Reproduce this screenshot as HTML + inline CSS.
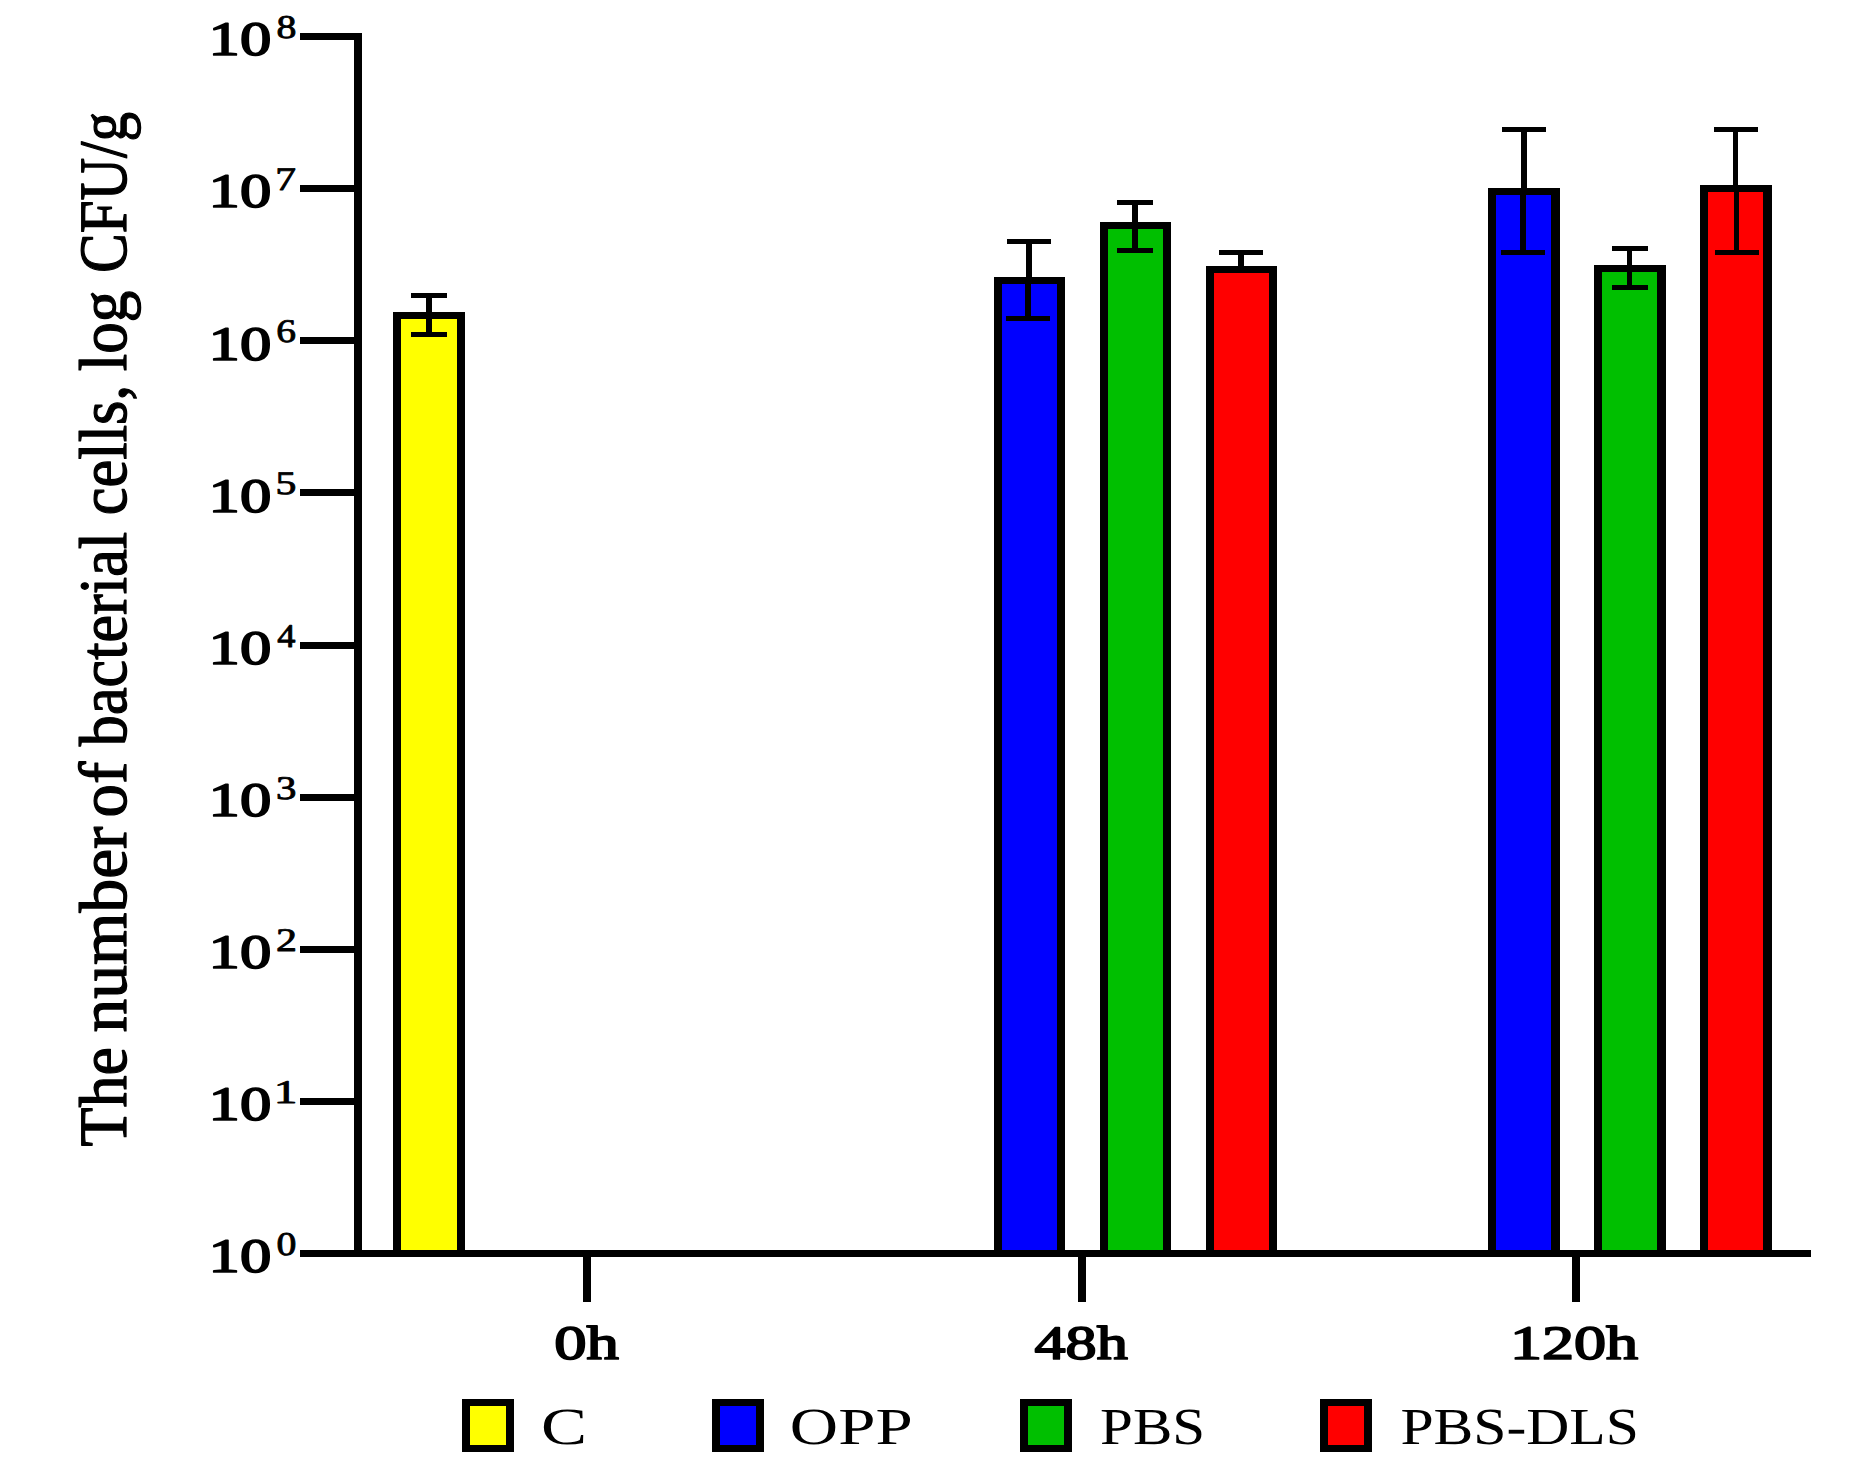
<!DOCTYPE html>
<html><head><meta charset="utf-8"><title>Bacterial cells chart</title>
<style>
html,body{margin:0;padding:0;background:#fff;}
body{width:1862px;height:1474px;overflow:hidden;}
svg{display:block;}
text{font-family:"Liberation Serif","DejaVu Serif",serif;fill:#000;}
</style></head><body>
<svg width="1862" height="1474" viewBox="0 0 1862 1474" shape-rendering="crispEdges" text-rendering="geometricPrecision">
<rect x="0" y="0" width="1862" height="1474" fill="#fff"/>
<rect x="393" y="312" width="72" height="941" fill="#000"/>
<rect x="401" y="319" width="56" height="934" fill="#ffff00"/>
<rect x="994" y="277" width="71" height="976" fill="#000"/>
<rect x="1002" y="284" width="55" height="969" fill="#0000ff"/>
<rect x="1100" y="222" width="71" height="1031" fill="#000"/>
<rect x="1108" y="229" width="55" height="1024" fill="#00bf00"/>
<rect x="1206" y="266" width="71" height="987" fill="#000"/>
<rect x="1214" y="273" width="55" height="980" fill="#ff0000"/>
<rect x="1488" y="188" width="72" height="1065" fill="#000"/>
<rect x="1496" y="195" width="55" height="1058" fill="#0000ff"/>
<rect x="1594" y="265" width="72" height="988" fill="#000"/>
<rect x="1602" y="272" width="55" height="981" fill="#00bf00"/>
<rect x="1700" y="185" width="72" height="1068" fill="#000"/>
<rect x="1708" y="192" width="55" height="1061" fill="#ff0000"/>
<rect x="411" y="293" width="36" height="5" fill="#000"/>
<rect x="426" y="293" width="6" height="23" fill="#000"/>
<rect x="426" y="315" width="6" height="22" fill="#000"/>
<rect x="411" y="332" width="36" height="5" fill="#000"/>
<rect x="1007" y="239" width="44" height="5" fill="#000"/>
<rect x="1026" y="239" width="6" height="42" fill="#000"/>
<rect x="1025" y="280" width="6" height="41" fill="#000"/>
<rect x="1006" y="316" width="44" height="5" fill="#000"/>
<rect x="1117" y="200" width="36" height="5" fill="#000"/>
<rect x="1132" y="200" width="6" height="26" fill="#000"/>
<rect x="1132" y="225" width="6" height="28" fill="#000"/>
<rect x="1117" y="248" width="36" height="5" fill="#000"/>
<rect x="1219" y="250" width="44" height="5" fill="#000"/>
<rect x="1238" y="250" width="6" height="20" fill="#000"/>
<rect x="1502" y="127" width="44" height="5" fill="#000"/>
<rect x="1521" y="127" width="6" height="65" fill="#000"/>
<rect x="1520" y="191" width="6" height="64" fill="#000"/>
<rect x="1501" y="250" width="44" height="5" fill="#000"/>
<rect x="1612" y="246" width="36" height="5" fill="#000"/>
<rect x="1627" y="246" width="5" height="23" fill="#000"/>
<rect x="1627" y="268" width="5" height="22" fill="#000"/>
<rect x="1612" y="285" width="36" height="5" fill="#000"/>
<rect x="1714" y="127" width="44" height="5" fill="#000"/>
<rect x="1733" y="127" width="5" height="62" fill="#000"/>
<rect x="1734" y="188" width="5" height="67" fill="#000"/>
<rect x="1715" y="250" width="44" height="5" fill="#000"/>
<rect x="354" y="33" width="8" height="1224" fill="#000"/>
<rect x="300" y="1250" width="1511" height="7" fill="#000"/>
<text transform="translate(208.60,1272.25) scale(1.3027,1)" font-size="48.12" font-weight="normal" stroke="#000" stroke-width="1.7" stroke-linejoin="round">10</text>
<text transform="translate(276.40,1255.08) scale(1.2063,1)" font-size="33.01" font-weight="normal" stroke="#000" stroke-width="0.85" stroke-linejoin="round">0</text>
<rect x="300" y="1098" width="55" height="7" fill="#000"/>
<text transform="translate(208.60,1120.12) scale(1.3027,1)" font-size="48.12" font-weight="normal" stroke="#000" stroke-width="1.7" stroke-linejoin="round">10</text>
<text transform="translate(273.85,1102.95) scale(1.4355,1)" font-size="33.01" font-weight="normal" stroke="#000" stroke-width="0.85" stroke-linejoin="round">1</text>
<rect x="300" y="946" width="55" height="7" fill="#000"/>
<text transform="translate(208.60,968.00) scale(1.3027,1)" font-size="48.12" font-weight="normal" stroke="#000" stroke-width="1.7" stroke-linejoin="round">10</text>
<text transform="translate(276.10,950.83) scale(1.2712,1)" font-size="33.01" font-weight="normal" stroke="#000" stroke-width="0.85" stroke-linejoin="round">2</text>
<rect x="300" y="794" width="55" height="7" fill="#000"/>
<text transform="translate(208.60,815.88) scale(1.3027,1)" font-size="48.12" font-weight="normal" stroke="#000" stroke-width="1.7" stroke-linejoin="round">10</text>
<text transform="translate(275.97,798.70) scale(1.2358,1)" font-size="33.01" font-weight="normal" stroke="#000" stroke-width="0.85" stroke-linejoin="round">3</text>
<rect x="300" y="642" width="55" height="7" fill="#000"/>
<text transform="translate(208.60,663.75) scale(1.3027,1)" font-size="48.12" font-weight="normal" stroke="#000" stroke-width="1.7" stroke-linejoin="round">10</text>
<text transform="translate(277.16,646.58) scale(1.1055,1)" font-size="33.01" font-weight="normal" stroke="#000" stroke-width="0.85" stroke-linejoin="round">4</text>
<rect x="300" y="489" width="55" height="7" fill="#000"/>
<text transform="translate(208.60,511.62) scale(1.3027,1)" font-size="48.12" font-weight="normal" stroke="#000" stroke-width="1.7" stroke-linejoin="round">10</text>
<text transform="translate(275.51,494.45) scale(1.2654,1)" font-size="33.01" font-weight="normal" stroke="#000" stroke-width="0.85" stroke-linejoin="round">5</text>
<rect x="300" y="337" width="55" height="7" fill="#000"/>
<text transform="translate(208.60,359.50) scale(1.3027,1)" font-size="48.12" font-weight="normal" stroke="#000" stroke-width="1.7" stroke-linejoin="round">10</text>
<text transform="translate(276.21,342.32) scale(1.1972,1)" font-size="33.01" font-weight="normal" stroke="#000" stroke-width="0.85" stroke-linejoin="round">6</text>
<rect x="300" y="185" width="55" height="7" fill="#000"/>
<text transform="translate(208.60,207.38) scale(1.3027,1)" font-size="48.12" font-weight="normal" stroke="#000" stroke-width="1.7" stroke-linejoin="round">10</text>
<text transform="translate(275.20,190.20) scale(1.2582,1)" font-size="33.01" font-weight="normal" stroke="#000" stroke-width="0.85" stroke-linejoin="round">7</text>
<rect x="300" y="33" width="55" height="7" fill="#000"/>
<text transform="translate(208.60,55.25) scale(1.3027,1)" font-size="48.12" font-weight="normal" stroke="#000" stroke-width="1.7" stroke-linejoin="round">10</text>
<text transform="translate(276.40,38.08) scale(1.2063,1)" font-size="33.01" font-weight="normal" stroke="#000" stroke-width="0.85" stroke-linejoin="round">8</text>
<rect x="583" y="1257" width="8" height="45" fill="#000"/>
<text transform="translate(554.29,1358.65) scale(1.3513,1)" font-size="47.82" font-weight="normal" stroke="#000" stroke-width="1.7" stroke-linejoin="round">0h</text>
<rect x="1078" y="1257" width="8" height="45" fill="#000"/>
<text transform="translate(1034.49,1358.65) scale(1.2997,1)" font-size="47.82" font-weight="normal" stroke="#000" stroke-width="1.7" stroke-linejoin="round">48h</text>
<rect x="1572" y="1257" width="8" height="45" fill="#000"/>
<text transform="translate(1509.90,1358.65) scale(1.3416,1)" font-size="47.82" font-weight="normal" stroke="#000" stroke-width="1.7" stroke-linejoin="round">120h</text>
<rect x="462" y="1399" width="52" height="53" fill="#000"/>
<rect x="470" y="1406" width="36" height="39" fill="#ffff00"/>
<text transform="translate(541.07,1444.00) scale(1.3254,1)" font-size="52.08" font-weight="normal">C</text>
<rect x="712" y="1399" width="52" height="53" fill="#000"/>
<rect x="720" y="1406" width="36" height="39" fill="#0000ff"/>
<text transform="translate(789.86,1444.00) scale(1.2846,1)" font-size="52.08" font-weight="normal">OPP</text>
<rect x="1020" y="1399" width="52" height="53" fill="#000"/>
<rect x="1028" y="1406" width="36" height="39" fill="#00bf00"/>
<text transform="translate(1100.10,1444.00) scale(1.1327,1)" font-size="52.08" font-weight="normal">PBS</text>
<rect x="1320" y="1399" width="52" height="53" fill="#000"/>
<rect x="1328" y="1406" width="36" height="39" fill="#ff0000"/>
<text transform="translate(1400.38,1444.00) scale(1.1441,1)" font-size="52.08" font-weight="normal">PBS-DLS</text>
<text transform="translate(126.15,1146.54) rotate(-90) scale(0.9454,1)" font-size="67.66" font-weight="normal" stroke="#000" stroke-width="1.3" stroke-linejoin="round">The</text>
<text transform="translate(126.15,1032.40) rotate(-90) scale(0.9965,1)" font-size="67.66" font-weight="normal" stroke="#000" stroke-width="1.3" stroke-linejoin="round">number</text>
<text transform="translate(126.15,817.41) rotate(-90) scale(0.9895,1)" font-size="67.66" font-weight="normal" stroke="#000" stroke-width="1.3" stroke-linejoin="round">of</text>
<text transform="translate(126.15,746.20) rotate(-90) scale(0.9201,1)" font-size="67.66" font-weight="normal" stroke="#000" stroke-width="1.3" stroke-linejoin="round">bacterial</text>
<text transform="translate(126.15,515.18) rotate(-90) scale(0.9242,1)" font-size="67.66" font-weight="normal" stroke="#000" stroke-width="1.3" stroke-linejoin="round">cells,</text>
<text transform="translate(126.15,371.16) rotate(-90) scale(0.9317,1)" font-size="67.66" font-weight="normal" stroke="#000" stroke-width="1.3" stroke-linejoin="round">log</text>
<text transform="translate(126.15,272.65) rotate(-90) scale(0.8718,1)" font-size="67.66" font-weight="normal" stroke="#000" stroke-width="1.3" stroke-linejoin="round">CFU/g</text>
</svg>
</body></html>
